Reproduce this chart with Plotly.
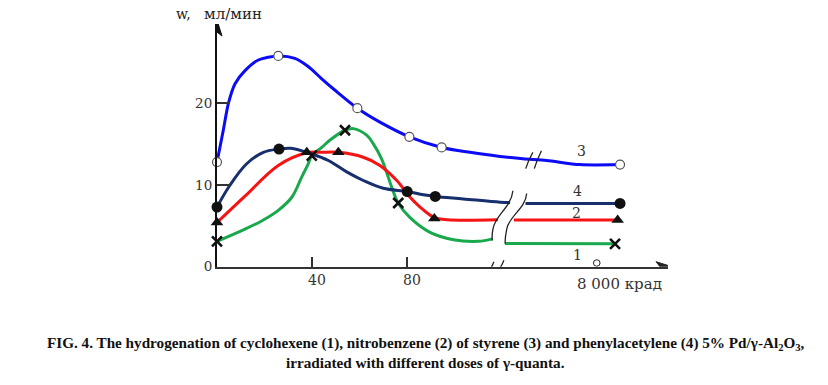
import plotly.graph_objects as go

# ---------------- data (x in dose units on the compressed axis, y = w, мл/мин) ----------------
# curve 3 (styrene) – blue, open circles
s3_curve_x = [0, 2.65, 4.8, 7.6, 11.8, 17.4, 25.8, 32.8, 38.4, 44.1, 49.7, 59.1, 68.6, 81.0, 94.6, 106.5, 119.2, 128.8, 138.8, 152.8, 169.7]
s3_curve_y = [12.8, 16.7, 20.0, 22.4, 24.0, 25.3, 25.8, 25.5, 24.5, 23.0, 21.6, 19.4, 17.7, 15.9, 14.6, 14.0, 13.5, 13.2, 13.0, 12.5, 12.5]
s3_mark_x = [0, 25.8, 59.1, 81.0, 94.6, 169.7]
s3_mark_y = [12.8, 25.8, 19.4, 15.9, 14.6, 12.5]

# curve 4 (phenylacetylene) – navy, filled circles
s4_curve_x = [0, 5.5, 12.5, 19.5, 26.1, 31.0, 39.9, 46.9, 54.6, 61.6, 70.0, 80.1, 86.9, 91.9, 103.7, 119.2, 123.4]
s4_curve_y = [7.3, 10.0, 12.6, 14.0, 14.4, 14.5, 13.8, 13.0, 11.6, 10.55, 9.6, 9.2, 8.8, 8.6, 8.3, 7.9, 7.85]
s4_tail_x = [129.9, 169.7]
s4_tail_y = [7.75, 7.75]
s4_mark_x = [0, 26.1, 80.1, 91.9, 169.7]
s4_mark_y = [7.3, 14.4, 9.2, 8.6, 7.75]

# curve 2 (nitrobenzene) – red, triangles
s2_curve_x = [0, 12.0, 25.8, 37.8, 44.0, 51.1, 61.6, 68.6, 75.7, 81.3, 85.5, 91.5, 97.0, 118.3]
s2_curve_y = [5.4, 8.7, 12.4, 13.95, 14.0, 14.0, 13.4, 12.4, 10.55, 8.5, 7.3, 6.0, 5.75, 5.75]
s2_tail_x = [125.0, 168.7]
s2_tail_y = [5.7, 5.7]
s2_mark_x = [0, 37.8, 51.1, 91.5, 168.7]
s2_mark_y = [5.4, 14.0, 14.0, 5.9, 5.7]

# curve 1 (cyclohexene) – green, crosses
s1_curve_x = [0, 11.8, 18.8, 25.8, 31.5, 35.7, 38.4, 39.9, 44.1, 47.6, 53.9, 57.4, 63.0, 65.7, 69.3, 73.6, 76.3, 81.3, 89.7, 99.5, 110.0, 116.0]
s1_curve_y = [3.1, 4.6, 5.6, 6.9, 8.5, 11.0, 12.6, 13.6, 14.6, 15.5, 16.7, 16.9, 16.1, 15.1, 13.2, 9.7, 7.8, 6.0, 4.2, 3.3, 3.1, 3.4]
s1_tail_x = [121.3, 167.6]
s1_tail_y = [2.85, 2.8]
s1_mark_x = [0, 39.9, 53.9, 76.3, 167.6]
s1_mark_y = [3.1, 13.6, 16.7, 7.8, 2.8]

x_tick_vals = [40, 80]
x_tick_text = ["40", "80"]
y_tick_vals = [0, 10, 20]
y_tick_text = ["0", "10", "20"]
x_break_label = "8 000 крад"
x_break_pos = 159.9
curve_labels = ["3", "4", "2", "1"]
curve_label_x = [153.6, 151.9, 151.5, 151.9]
curve_label_y = [14.2, 9.3, 6.6, 1.45]

BLUE = "#0b0bf5"
NAVY = "#172f6c"
RED = "#f51313"
GREEN = "#1aa84c"
SERIF = "Liberation Serif"
WIDE = "DejaVu Serif"
X_MAX = 189.9
Y_MAX = 29.7
H = 394  # page height that is photographed (layout fractions below are relative)

fig = go.Figure()

def line(x, y, color, spline=True, smooth=1.0):
    fig.add_trace(go.Scatter(x=x, y=y, mode="lines", cliponaxis=False,
                             line=dict(color=color, width=3, shape="spline" if spline else "linear", smoothing=smooth),
                             hoverinfo="skip", showlegend=False))

def marks(x, y, symbol, size, fill, lc, lw):
    fig.add_trace(go.Scatter(x=x, y=y, mode="markers", cliponaxis=False,
                             marker=dict(symbol=symbol, size=size, color=fill,
                                         line=dict(color=lc, width=lw)),
                             showlegend=False))

line(s1_curve_x, s1_curve_y, GREEN)
line(s1_tail_x, s1_tail_y, GREEN, False)
line(s2_curve_x, s2_curve_y, RED)
line(s2_tail_x, s2_tail_y, RED, False)
line(s4_curve_x, s4_curve_y, NAVY)
line(s4_tail_x, s4_tail_y, NAVY, False)
line(s3_curve_x, s3_curve_y, BLUE, smooth=0.8)

marks(s3_mark_x, s3_mark_y, "circle", 9, "white", "#555555", 1.2)
marks(s4_mark_x, s4_mark_y, "circle", 11, "#111111", "#111111", 0)
marks(s2_mark_x, s2_mark_y, "triangle-up", 11, "#111111", "#111111", 0)
marks(s1_mark_x, s1_mark_y, "x-thin", 10, "#111111", "#111111", 2.6)

# ---------------- break marks and axis arrows (decoration) ----------------
shapes = []
brk = dict(type="path", xref="x", yref="y", line=dict(color="#222222", width=1.3), layer="above")
shapes.append(dict(brk, path="M 124.6 9.3 C 123.8 7.2, 117.0 6.3, 116.2 4.6 C 115.6 3.8, 115.9 3.4, 115.9 3.2"))
shapes.append(dict(brk, path="M 130.4 8.96 C 129.8 7.0, 123.0 6.3, 122.0 4.6 C 121.4 3.8, 121.3 3.2, 121.3 2.8"))
# blue-line break
shapes.append(dict(brk, path="M 130.0 12.0 Q 131.0 13.0, 133.0 14.0"))
shapes.append(dict(brk, path="M 133.6 12.0 Q 134.6 13.0, 136.6 14.2"))
# x-axis gap and break
shapes.append(dict(type="rect", xref="x", yref="y", x0=114.5, x1=118.8, y0=-0.35, y1=0.35,
                   fillcolor="white", line=dict(width=0), layer="above"))
shapes.append(dict(brk, path="M 111.5 -1.3 Q 114.5 -0.9, 116.6 0.6"))
shapes.append(dict(brk, path="M 115.0 -1.3 Q 118.5 -0.9, 120.8 0.8"))
# tick circle at 8 000
shapes.append(dict(type="circle", xref="x", yref="y", x0=x_break_pos - 1.4, x1=x_break_pos + 1.4,
                   y0=0.05, y1=0.85, line=dict(color="#222222", width=1), fillcolor="white", layer="above"))
# arrowheads (pixel-sized, anchored at axis ends)
shapes.append(dict(type="path", xref="x", yref="y", xsizemode="pixel", ysizemode="pixel",
                   xanchor=0, yanchor=Y_MAX, path="M -5 -12 L 0 4 L 5 -12 L 0 -8 Z",
                   fillcolor="#111111", line=dict(color="#111111", width=1), layer="above"))
shapes.append(dict(type="path", xref="x", yref="y", xsizemode="pixel", ysizemode="pixel",
                   xanchor=X_MAX, yanchor=0, path="M -12 -5 L 4 0 L -12 5 L -8 0 Z",
                   fillcolor="#222222", line=dict(color="#222222", width=1), layer="above"))

annotations = []
for t, x, y in zip(curve_labels, curve_label_x, curve_label_y):
    annotations.append(dict(x=x, y=y, xref="x", yref="y", text=t, showarrow=False,
                            font=dict(family=WIDE, size=14, color="#333333")))
annotations.append(dict(x=575 / 828, y=1 - 283 / 385, xref="paper", yref="paper", text=x_break_label,
                        showarrow=False, xanchor="left", yanchor="middle",
                        font=dict(family=WIDE, size=15, color="#333333")))
# axis title
annotations.append(dict(x=174 / 828, y=1 - 14 / 385, xref="paper", yref="paper", xanchor="left", yanchor="middle",
                        text="w,", showarrow=False,
                        font=dict(family=WIDE, size=14, color="#222222")))
annotations.append(dict(x=202 / 828, y=1 - 14 / 385, xref="paper", yref="paper", xanchor="left", yanchor="middle",
                        text="мл/мин", showarrow=False,
                        font=dict(family=WIDE, size=15, color="#222222")))
# caption
annotations.append(dict(x=426 / 828, y=1 - 343 / 385, xref="paper", yref="paper", xanchor="center", yanchor="middle",
                        text="<b>FIG. 4. The hydrogenation of cyclohexene (1), nitrobenzene (2) of styrene (3) and phenylacetylene (4) 5% Pd/γ-Al<sub>2</sub>O<sub>3</sub>,</b>",
                        showarrow=False, font=dict(family=SERIF, size=15.2, color="#111111")))
annotations.append(dict(x=426 / 828, y=1 - 362 / 385, xref="paper", yref="paper", xanchor="center", yanchor="middle",
                        text="<b>irradiated with different doses of γ-quanta.</b>",
                        showarrow=False, font=dict(family=SERIF, size=15.2, color="#111111")))

fig.update_layout(
    width=828, height=H,
    margin=dict(l=0, r=0, t=0, b=0),
    paper_bgcolor="white", plot_bgcolor="white",
    showlegend=False,
    xaxis=dict(domain=[217 / 828, 668 / 828], range=[0, X_MAX], showgrid=False, zeroline=False,
               showline=True, linecolor="#333333", linewidth=2,
               ticks="inside", ticklen=10, tickwidth=1.5, tickcolor="#333333",
               tickvals=x_tick_vals, ticktext=x_tick_text, ticklabelshift=5,
               tickfont=dict(family=WIDE, size=14, color="#333333")),
    yaxis=dict(domain=[(385 - 266) / 385, (385 - 24) / 385], range=[0, Y_MAX], showgrid=False, zeroline=False,
               showline=True, linecolor="#111111", linewidth=2,
               ticks="inside", ticklen=13, tickwidth=1.5, tickcolor="#333333",
               tickvals=y_tick_vals, ticktext=y_tick_text,
               tickfont=dict(family=WIDE, size=13.5, color="#333333")),
    shapes=shapes,
    annotations=annotations,
)

fig.write_html(
    "out.html",
    config={"displayModeBar": False},
    post_script=("document.documentElement.style.overflow='hidden';"
                 "document.body.style.margin='0';"
                 "document.body.style.overflow='hidden';"),
)
